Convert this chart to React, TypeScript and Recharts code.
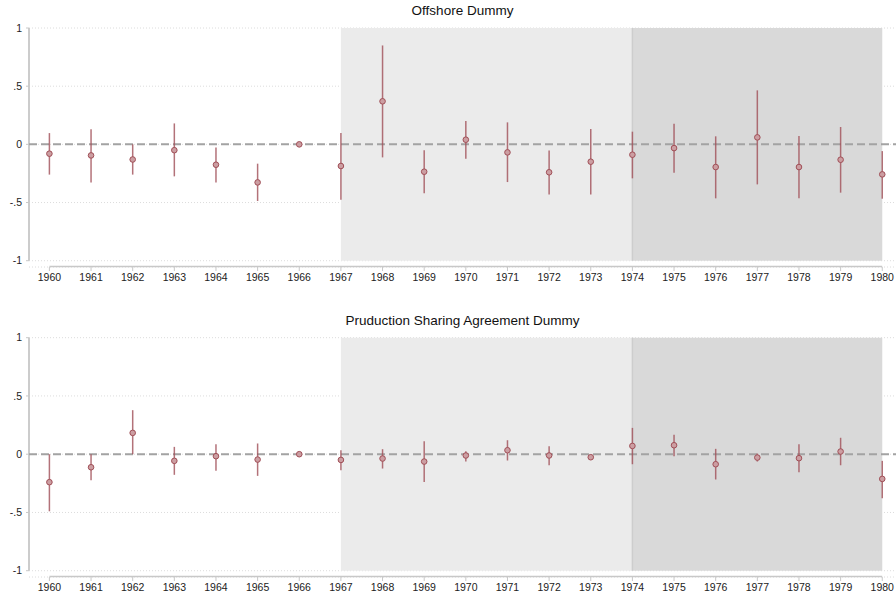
import React from 'react';
import {
  ComposedChart, Scatter, ErrorBar, XAxis, YAxis, CartesianGrid, ReferenceLine, ReferenceArea
} from 'recharts';

const years = [1960, 1961, 1962, 1963, 1964, 1965, 1966, 1967, 1968, 1969, 1970, 1971, 1972, 1973, 1974, 1975, 1976, 1977, 1978, 1979, 1980];

// Offshore dummy: point estimate and 95% interval
const offshoreEst = [-0.08, -0.095, -0.13, -0.05, -0.175, -0.327, 0, -0.186, 0.37, -0.235, 0.04, -0.069, -0.24, -0.149, -0.089, -0.032, -0.195, 0.06, -0.195, -0.132, -0.258];
const offshoreLo = [-0.26, -0.327, -0.26, -0.275, -0.327, -0.487, 0, -0.476, -0.112, -0.42, -0.123, -0.324, -0.43, -0.43, -0.292, -0.243, -0.464, -0.344, -0.464, -0.415, -0.467];
const offshoreHi = [0.097, 0.13, 0, 0.18, -0.026, -0.166, 0, 0.097, 0.85, -0.05, 0.2, 0.189, -0.052, 0.132, 0.109, 0.178, 0.069, 0.464, 0.072, 0.149, -0.058];

// Production sharing agreement dummy
const psaEst = [-0.24, -0.112, 0.183, -0.057, -0.017, -0.046, 0, -0.049, -0.037, -0.063, -0.011, 0.034, -0.011, -0.026, 0.071, 0.077, -0.086, -0.029, -0.034, 0.023, -0.212];
const psaLo = [-0.49, -0.223, 0, -0.177, -0.143, -0.186, 0, -0.137, -0.123, -0.238, -0.063, -0.054, -0.095, -0.045, -0.086, -0.017, -0.217, -0.063, -0.154, -0.095, -0.378];
const psaHi = [0, 0, 0.378, 0.063, 0.086, 0.092, 0, 0.034, 0.043, 0.112, 0.026, 0.12, 0.069, -0.01, 0.226, 0.166, 0.046, 0.006, 0.086, 0.141, -0.057];

const yTicks = [-1, -0.5, 0, 0.5, 1];
const yTickLabels = ['-1', '-.5', '0', '.5', '1'];

const X_MIN = 1959.51;
const X_MAX = 1980.33;
const Y_MIN = -1.054;

const BAR = '#a04f57';
const FONT = '"Liberation Sans", Arial, Helvetica, sans-serif';

const Marker = (props: any) => {
  const { cx, cy } = props;
  if (cx == null || cy == null) return null;
  return <circle cx={cx} cy={cy} r={2.8} fill="#cc9ea2" stroke={BAR} strokeWidth={1} />;
};

interface PanelProps {
  est: number[];
  lo: number[];
  hi: number[];
  top: number;
  axisH: number;
}

const Panel: React.FC<PanelProps> = ({ est, lo, hi, top, axisH }) => {
  const data = years.map((yr, i) => ({
    year: yr,
    est: est[i],
    err: [est[i] - lo[i], hi[i] - est[i]],
  }));

  return (
    <ComposedChart
      width={896}
      height={300}
      data={data}
      margin={{ top, right: 0, left: 0, bottom: 0 }}
    >
      <ReferenceArea x1={1967} x2={1974} y1={-1} y2={1} fill="#ebebeb" fillOpacity={1} stroke="none" />
      <ReferenceArea x1={1974} x2={1980} y1={-1} y2={1} fill="#d9d9d9" fillOpacity={1} stroke="none" />
      <ReferenceLine
        ifOverflow="visible"
        segment={[{ x: 1974, y: -1 }, { x: 1974, y: 1 }]}
        stroke="#cdcdcd"
        strokeWidth={1.5}
      />
      <CartesianGrid vertical={false} stroke="#dcdcdc" strokeDasharray="1 2" />
      <XAxis
        type="number"
        dataKey="year"
        domain={[X_MIN, X_MAX]}
        ticks={years}
        allowDataOverflow
        axisLine={false}
        tickLine={{ stroke: '#c8c8c8' }}
        tickSize={4}
        tickMargin={3}
        height={axisH}
        tick={{ fill: '#222', fontSize: 10.5, fontFamily: FONT }}
        interval={0}
      />
      <YAxis
        type="number"
        domain={[Y_MIN, 1]}
        ticks={yTicks}
        allowDataOverflow
        width={29}
        axisLine={false}
        tickLine={{ stroke: '#c8c8c8' }}
        tickSize={3}
        tickMargin={4}
        tickFormatter={(v: number) => yTickLabels[yTicks.indexOf(v)] ?? String(v)}
        tick={{ fill: '#222', fontSize: 10.5, fontFamily: FONT }}
      />
      <ReferenceLine
        ifOverflow="visible"
        segment={[{ x: X_MIN, y: -1 }, { x: X_MIN, y: 1 }]}
        stroke="#cccccc"
        strokeWidth={2}
      />
      <ReferenceLine
        ifOverflow="visible"
        segment={[{ x: 1960, y: Y_MIN + 0.004 }, { x: 1980, y: Y_MIN + 0.004 }]}
        stroke="#c8c8c8"
        strokeWidth={1.5}
      />
      <ReferenceLine y={0} stroke="#a3a3a3" strokeWidth={2} strokeDasharray="8 4" />
      <Scatter dataKey="est" shape={<Marker />} isAnimationActive={false}>
        <ErrorBar dataKey="err" direction="y" width={0} stroke={BAR} strokeOpacity={0.8} strokeWidth={1.5} isAnimationActive={false} />
      </Scatter>
    </ComposedChart>
  );
};

const titleStyle = (top: number): React.CSSProperties => ({
  position: 'absolute',
  left: 29,
  width: 867,
  top,
  textAlign: 'center',
  fontFamily: FONT,
  fontSize: 13.5,
  color: '#111',
  lineHeight: '16px',
});

export default function App() {
  return (
    <div style={{ position: 'absolute', left: 0, top: 0, width: 896, height: 600, background: '#fff' }}>
      <div style={{ position: 'absolute', left: 0, top: 0 }}>
        <Panel est={offshoreEst} lo={offshoreLo} hi={offshoreHi} top={28} axisH={33} />
      </div>
      <div style={{ position: 'absolute', left: 0, top: 300 }}>
        <Panel est={psaEst} lo={psaLo} hi={psaHi} top={37.7} axisH={23} />
      </div>
      <div style={titleStyle(3)}>Offshore Dummy</div>
      <div style={titleStyle(313)}>Pruduction Sharing Agreement Dummy</div>
    </div>
  );
}
